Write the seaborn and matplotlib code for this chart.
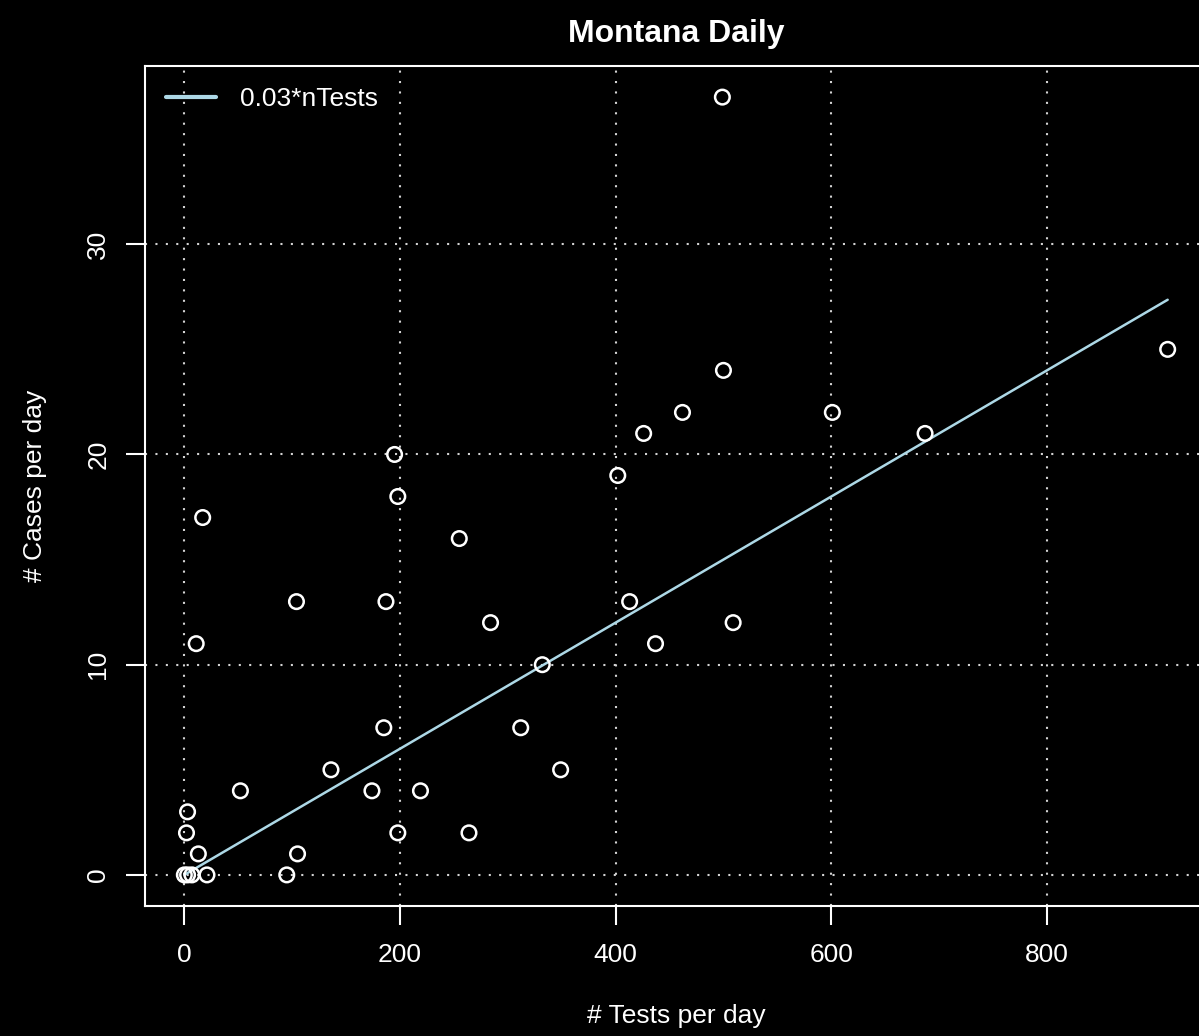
import matplotlib
matplotlib.use("Agg")
import matplotlib.pyplot as plt
import seaborn as sns
import numpy as np
import pandas as pd

# daily tests vs daily cases
n_tests = [0, 3, 7, 21, 95, 3, 2, 13, 52, 105, 17, 11, 104, 187, 195, 198,
           255, 185, 136, 174, 219, 198, 264, 312, 349, 284, 332, 402, 413,
           437, 426, 462, 500, 509, 499, 601, 687, 912]
n_cases = [0, 0, 0, 0, 0, 3, 2, 1, 4, 1, 17, 11, 13, 13, 20, 18,
           16, 7, 5, 4, 4, 2, 2, 7, 5, 12, 10, 19, 13,
           11, 21, 22, 24, 12, 37, 22, 21, 25]
rate = 0.03
x_ticks = [0, 200, 400, 600, 800]
y_ticks = [0, 10, 20, 30]

df = pd.DataFrame({"tests": n_tests, "cases": n_cases})
fit = pd.DataFrame({"tests": [0, max(n_tests)]})
fit["cases"] = rate * fit["tests"]

sns.set_style("dark", {"axes.facecolor": "black", "figure.facecolor": "black"})
plt.rcParams['font.family'] = ['Liberation Sans', 'DejaVu Sans']

W, H = 1199, 1036
fs = 19
fig = plt.figure(figsize=(W / 100, H / 100), dpi=100)
fig.patch.set_facecolor("black")
ax = fig.add_axes([145 / W, (H - 906) / H, (1207 - 145) / W, (906 - 66) / H])
ax.set_facecolor("black")

# R-style grid
for v in x_ticks:
    ax.axvline(v, color="#d3d3d3", lw=1.5, ls=(0, (1, 4)), zorder=1)
for v in y_ticks:
    ax.axhline(v, color="#d3d3d3", lw=1.5, ls=(0, (1, 4)), zorder=1)

sns.scatterplot(data=df, x="tests", y="cases", ax=ax, marker="o", s=110,
                facecolor="none", edgecolor="white", linewidth=1.8, zorder=3)
sns.lineplot(data=fit, x="tests", y="cases", ax=ax, color="#add8e6", lw=1.8,
             label=f"{rate}*nTests", zorder=2)

xr = max(n_tests) - min(n_tests)
yr = max(n_cases) - min(n_cases)
ax.set_xlim(-0.04 * xr, max(n_tests) + 0.04 * xr)
ax.set_ylim(-0.04 * yr, max(n_cases) + 0.04 * yr)

ax.set_xticks(x_ticks)
ax.set_yticks(y_ticks)
ax.tick_params(colors="white", labelcolor="white", labelsize=fs, length=14,
               width=1.5, direction="out", bottom=True, left=True)
ax.tick_params(axis="x", pad=13)
ax.tick_params(axis="y", pad=11)
for lab in ax.get_yticklabels():
    lab.set_rotation(90)
    lab.set_va("center")

for sp in ax.spines.values():
    sp.set_color("white")
    sp.set_linewidth(1.5)
    sp.set_visible(True)

ax.set_xlabel("# Tests per day", color="white", fontsize=fs, labelpad=26)
ax.set_ylabel("# Cases per day", color="white", fontsize=fs, labelpad=28)
ax.set_title("Montana Daily", color="white", fontsize=23, fontweight="bold", pad=17)

leg = ax.legend(loc="upper left", frameon=False, fontsize=fs,
                handlelength=1.9, handletextpad=0.9, borderaxespad=0.4)
for t in leg.get_texts():
    t.set_color("white")
for ln in leg.get_lines():
    ln.set_linewidth(3)

fig.savefig("out.png", dpi=100, facecolor="black")
